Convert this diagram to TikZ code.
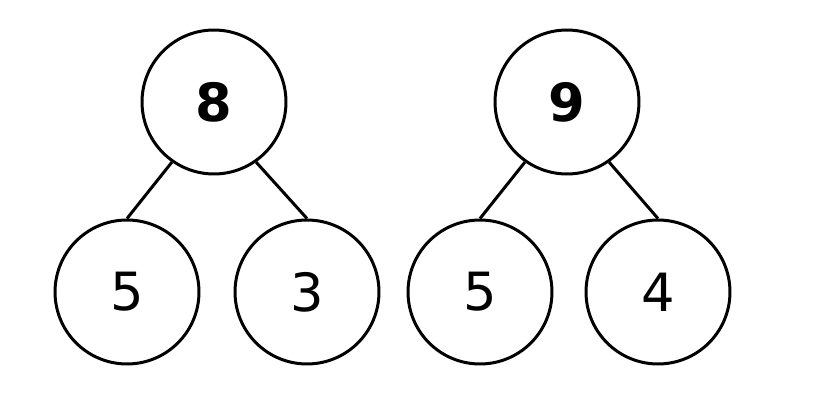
\documentclass[tikz,border=0pt]{standalone}
\usepackage{fontspec}
\setmainfont{DejaVu Sans}
\tikzset{
  num/.style = {circle, draw, line width=1.7pt, minimum size=2.88cm,
                inner sep=0pt, font=\fontsize{30}{36}\selectfont},
  top/.style = {num, font=\fontsize{30}{36}\selectfont\bfseries}
}
\begin{document}
\begin{tikzpicture}[x=0.02cm,y=-0.02cm]
	\useasboundingbox (0,0) rectangle (818,415);
	
	% Trees
	\node[top] (eight) at (214,102) {8};
	\node[num] (fiveA) at (127,292) {5};
	\node[num] (three) at (307,292) {3};
	
	\node[top] (nine) at (567,102) {9};
	\node[num] (fiveB) at (480,292) {5};
	\node[num] (four)  at (658,292) {4};
	
	% Branches
	\draw[line width=1.7pt] (eight.235) -- (fiveA.north);
	\draw[line width=1.7pt] (eight.305) -- (three.north);
	\draw[line width=1.7pt] (nine.235)  -- (fiveB.north);
	\draw[line width=1.7pt] (nine.305)  -- (four.north);
	
\end{tikzpicture}
\end{document}
